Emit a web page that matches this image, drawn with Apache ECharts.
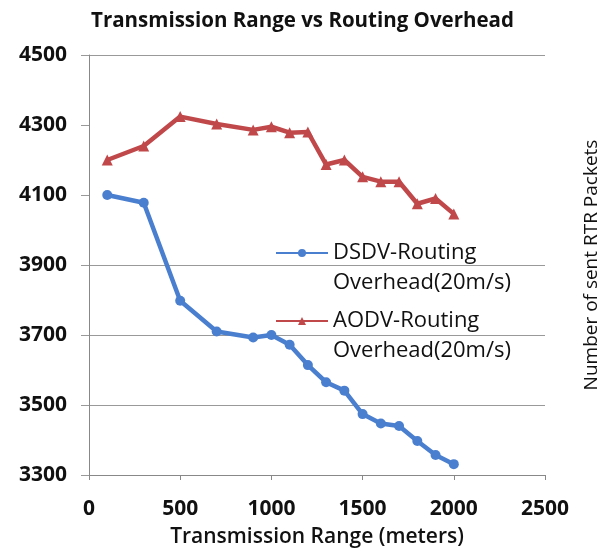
<!DOCTYPE html>
<html>
<head>
<meta charset="utf-8">
<script src="https://cdn.jsdelivr.net/npm/echarts@6/dist/echarts.min.js"></script>
<style>html,body{margin:0;padding:0;background:#fff}#c{width:605px;height:550px}</style>
</head>
<body>
<div id="c"></div>
<script>
const ranges = [100, 300, 500, 700, 900, 1000, 1100, 1200, 1300, 1400, 1500, 1600, 1700, 1800, 1900, 2000];
const dsdv = [4100, 4078, 3798, 3710, 3693, 3700, 3672, 3614, 3565, 3541, 3474, 3447, 3440, 3397, 3357, 3331];
const aodv = [4200, 4240, 4324, 4303, 4286, 4295, 4278, 4280, 4187, 4200, 4152, 4138, 4138, 4075, 4090, 4046];
const xTicks = [0, 500, 1000, 1500, 2000, 2500];
const yTicks = [3300, 3500, 3700, 3900, 4100, 4300, 4500];
const seriesNames = ['DSDV-Routing\nOverhead(20m/s)', 'AODV-Routing\nOverhead(20m/s)'];

const FONT = '"Open Sans", sans-serif';
const chart = echarts.init(document.getElementById('c'));
const gridColors = ['#999', '#999', '#999', '#999', 'rgba(0,0,0,0)', 'rgba(0,0,0,0)', '#999'];

const legendText = { fontFamily: FONT, fontSize: 22, fontWeight: 'normal', color: '#111', lineHeight: 30 };
function makeLegend(name, top) {
  return {
    orient: 'vertical', left: 275, top: top, padding: 0,
    itemWidth: 52, itemHeight: 10, itemGap: 0,
    formatter: n => '\n' + n,
    textStyle: legendText,
    data: [name]
  };
}

chart.setOption({
  animation: false,
  backgroundColor: '#fff',
  title: {
    text: 'Transmission Range vs Routing Overhead',
    left: 'center', top: 6,
    textStyle: { fontFamily: FONT, fontSize: 20.5, fontWeight: 'bold', color: '#111' }
  },
  legend: [makeLegend(seriesNames[0], 208), makeLegend(seriesNames[1], 276)],
  grid: { left: 89, right: 60, top: 55, bottom: 75, containLabel: false, outerBoundsMode: 'none' },
  xAxis: {
    type: 'value', min: xTicks[0], max: xTicks[xTicks.length - 1], interval: 500,
    name: 'Transmission Range (meters)', nameLocation: 'middle', nameGap: 52,
    nameTextStyle: { fontFamily: FONT, fontSize: 21, fontWeight: 600, color: '#111' },
    axisLine: { lineStyle: { color: '#888' } },
    axisTick: { show: true, length: 5, lineStyle: { color: '#888' } },
    axisLabel: { fontFamily: FONT, fontSize: 21, fontWeight: 'bold', color: '#111', margin: 24, formatter: v => String(v) },
    splitLine: { show: false }
  },
  yAxis: [{
    type: 'value', min: yTicks[0], max: yTicks[yTicks.length - 1], interval: 200,
    axisLine: { show: true, lineStyle: { color: '#888' } },
    axisTick: { show: true, length: 8, lineStyle: { color: '#999' } },
    axisLabel: { fontFamily: FONT, fontSize: 21, fontWeight: 'bold', color: '#111', margin: 22, formatter: v => String(v) },
    splitLine: { show: true, lineStyle: { color: gridColors, width: 1 } }
  }, {
    type: 'value', position: 'right', min: yTicks[0], max: yTicks[yTicks.length - 1], interval: 200,
    name: 'Number of sent RTR Packets', nameLocation: 'middle', nameGap: 37, nameRotate: 90,
    nameTextStyle: { fontFamily: FONT, fontSize: 19, color: '#111' },
    axisLine: { show: false }, axisTick: { show: false }, axisLabel: { show: false },
    splitLine: { show: false }
  }],
  series: [{
    name: seriesNames[0], type: 'line',
    data: ranges.map((x, i) => [x, dsdv[i]]),
    symbol: 'circle', symbolSize: 10,
    lineStyle: { color: '#4a7fcf', width: 4.5 },
    itemStyle: { color: '#4a7fcf' }
  }, {
    name: seriesNames[1], type: 'line',
    data: ranges.map((x, i) => [x, aodv[i]]),
    symbol: 'triangle', symbolSize: 11,
    lineStyle: { color: '#c0484a', width: 4.5 },
    itemStyle: { color: '#c0484a' }
  }]
});
</script>
</body>
</html>
